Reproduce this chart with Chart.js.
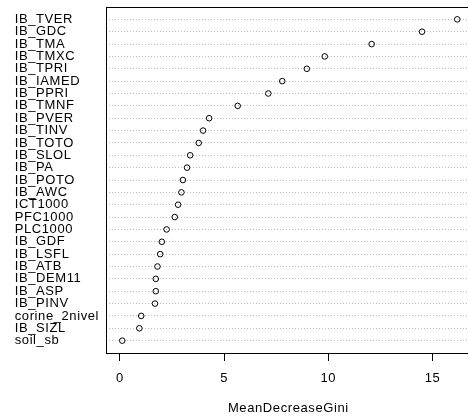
<!DOCTYPE html>
<html><head><meta charset="utf-8">
<script src="https://cdn.jsdelivr.net/npm/chart.js@4"></script>
<style>html,body{margin:0;padding:0;background:#fff;overflow:hidden;width:468px;height:416px}canvas{display:block}</style>
</head><body>
<canvas id="c" width="476" height="416"></canvas>
<script>
const variables = ['IB_TVER','IB_GDC','IB_TMA','IB_TMXC','IB_TPRI','IB_IAMED','IB_PPRI','IB_TMNF','IB_PVER','IB_TINV','IB_TOTO','IB_SLOL','IB_PA','IB_POTO','IB_AWC','ICT1000','PFC1000','PLC1000','IB_GDF','IB_LSFL','IB_ATB','IB_DEM11','IB_ASP','IB_PINV','corine_2nivel','IB_SIZL','soil_sb'];
const meanDecreaseGini = [16.19,14.50,12.08,9.83,8.97,7.79,7.12,5.65,4.28,3.99,3.78,3.37,3.22,3.02,2.95,2.79,2.63,2.24,2.01,1.93,1.80,1.72,1.72,1.68,1.02,0.93,0.11];
const xTicks = [0,5,10,15];
const xTitle = 'MeanDecreaseGini';

const FONT = '"Liberation Sans", Arial, Helvetica, sans-serif';
const n = variables.length;

const boxPlugin = {
  id: 'box',
  beforeDraw(chart){ chart.ctx.letterSpacing = '0.6px'; },
  beforeDatasetsDraw(chart){
    const a = chart.chartArea, ctx = chart.ctx;
    ctx.save();
    ctx.strokeStyle = '#000';
    ctx.lineWidth = 1;
    ctx.strokeRect(Math.round(a.left)+0.5, Math.round(a.top)+0.5, Math.round(a.right-a.left), Math.round(a.bottom-a.top));
    ctx.restore();
  }
};

new Chart(document.getElementById('c'), {
  type: 'scatter',
  data: {
    datasets: [{
      data: meanDecreaseGini.map((v,i)=>({x:v, y:n - i})),
      pointStyle: 'circle',
      pointRadius: 2.8,
      borderWidth: 1,
      borderColor: '#000',
      backgroundColor: 'rgba(0,0,0,0)'
    }]
  },
  options: {
    responsive: false,
    animation: false,
    layout: { padding: { left: 14.7, right: 4, top: 7, bottom: 0 } },
    plugins: { legend: { display: false }, tooltip: { enabled: false } },
    scales: {
      x: {
        type: 'linear',
        position: 'bottom',
        min: -0.685, max: 16.85,
        afterBuildTicks(s){ s.ticks = xTicks.map(v=>({value:v})); },
        afterFit(s){ s.height = 63; s.paddingLeft = 0; s.paddingRight = 0; s.paddingTop = 0; s.paddingBottom = 0; },
        grid: { display: true, drawOnChartArea: false, drawTicks: true, tickLength: 8, color: '#000', tickColor: '#000', tickWidth: 1 },
        border: { display: false },
        ticks: { color: '#000', padding: 10, maxRotation: 0, autoSkip: false, font: { family: FONT, size: 13 } },
        title: { display: true, text: xTitle, color: '#000', padding: { top: 0, bottom: 0 }, font: { family: FONT, size: 13 } }
      },
      y: {
        type: 'linear',
        position: 'left',
        min: 0, max: n + 1,
        afterBuildTicks(s){ s.ticks = variables.map((v,i)=>({value:n - i})); },
        afterFit(s){ s.width = 91; s.paddingLeft = 0; s.paddingRight = 0; s.paddingTop = 0; s.paddingBottom = 0; },
        grid: { display: true, drawOnChartArea: true, drawTicks: false, color: '#BEBEBE', lineWidth: 1, borderDash: [1,2] },
        border: { display: false, dash: [1,2] },
        ticks: {
          color: '#000', crossAlign: 'far', autoSkip: false, padding: 0,
          font: { family: FONT, size: 13 },
          callback: (value) => variables[n - value]
        }
      }
    }
  },
  plugins: [boxPlugin]
});
</script>
</body></html>
